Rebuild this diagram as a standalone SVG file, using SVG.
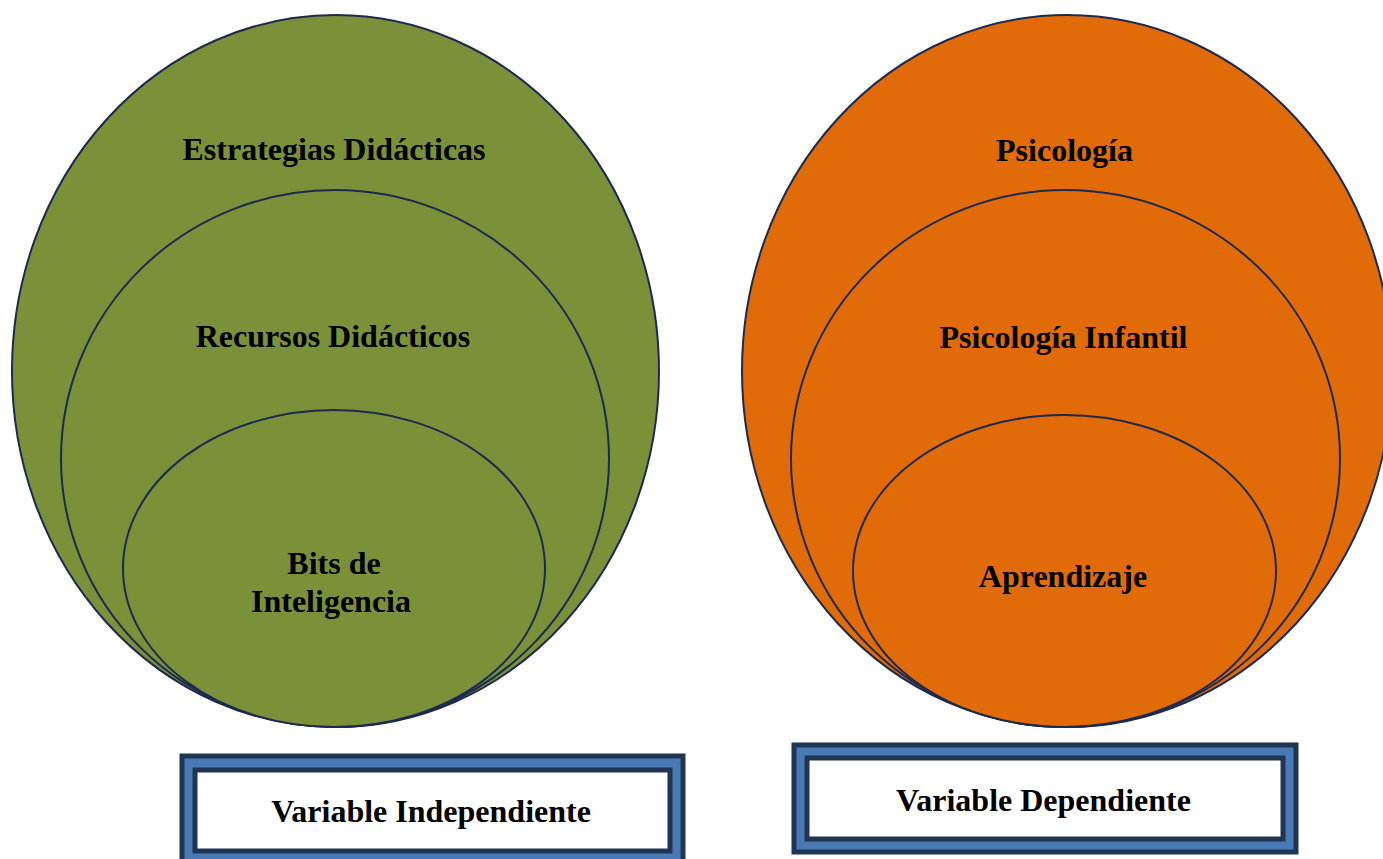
<svg xmlns="http://www.w3.org/2000/svg" width="1383" height="859" viewBox="0 0 1383 859">
  <style>
    .ring { stroke: #1c2a4f; stroke-width: 2; }
    .green { fill: #7a913a; }
    .orange { fill: #e16b08; }
    .lbl { font-family: "Liberation Serif", "Times New Roman", serif; font-weight: bold; font-size: 32px; fill: #000; text-anchor: middle; }
    .frame-out { fill: #4a7ab5; stroke: #1f3553; stroke-width: 5; }
    .frame-in { fill: #ffffff; stroke: #1f3553; stroke-width: 5; }
  </style>
  <rect width="1383" height="859" fill="#ffffff"/>

  <!-- independent variable set -->
  <g id="estrategias">
    <ellipse class="ring green" cx="335.5" cy="371" rx="323.5" ry="356"/>
    <text class="lbl" x="334" y="160">Estrategias Didácticas</text>
  </g>
  <g id="recursos">
    <ellipse class="ring green" cx="335" cy="458.5" rx="274" ry="268.5"/>
    <text class="lbl" x="333" y="347">Recursos Didácticos</text>
  </g>
  <g id="bits">
    <ellipse class="ring green" cx="334" cy="568.5" rx="211" ry="158.5"/>
    <text class="lbl" x="334" y="574">Bits de</text>
    <text class="lbl" x="331" y="612">Inteligencia</text>
  </g>

  <!-- dependent variable set -->
  <g id="psicologia">
    <ellipse class="ring orange" cx="1067" cy="371" rx="325" ry="356"/>
    <text class="lbl" x="1064.5" y="161">Psicología</text>
  </g>
  <g id="psicologia-infantil">
    <ellipse class="ring orange" cx="1065.5" cy="458.5" rx="274.5" ry="268.5"/>
    <text class="lbl" x="1063.5" y="348">Psicología Infantil</text>
  </g>
  <g id="aprendizaje">
    <ellipse class="ring orange" cx="1064.5" cy="571" rx="211.5" ry="156"/>
    <text class="lbl" x="1063" y="587">Aprendizaje</text>
  </g>

  <!-- captions -->
  <g id="variable-independiente">
    <rect class="frame-out" x="182" y="756" width="501" height="106"/>
    <rect class="frame-in" x="195" y="770" width="475" height="81"/>
    <text class="lbl" x="431" y="822">Variable Independiente</text>
  </g>
  <g id="variable-dependiente">
    <rect class="frame-out" x="794" y="745" width="502" height="107"/>
    <rect class="frame-in" x="807" y="758" width="476" height="81"/>
    <text class="lbl" x="1043.5" y="811">Variable Dependiente</text>
  </g>

  <g id="connectors"/>
</svg>
